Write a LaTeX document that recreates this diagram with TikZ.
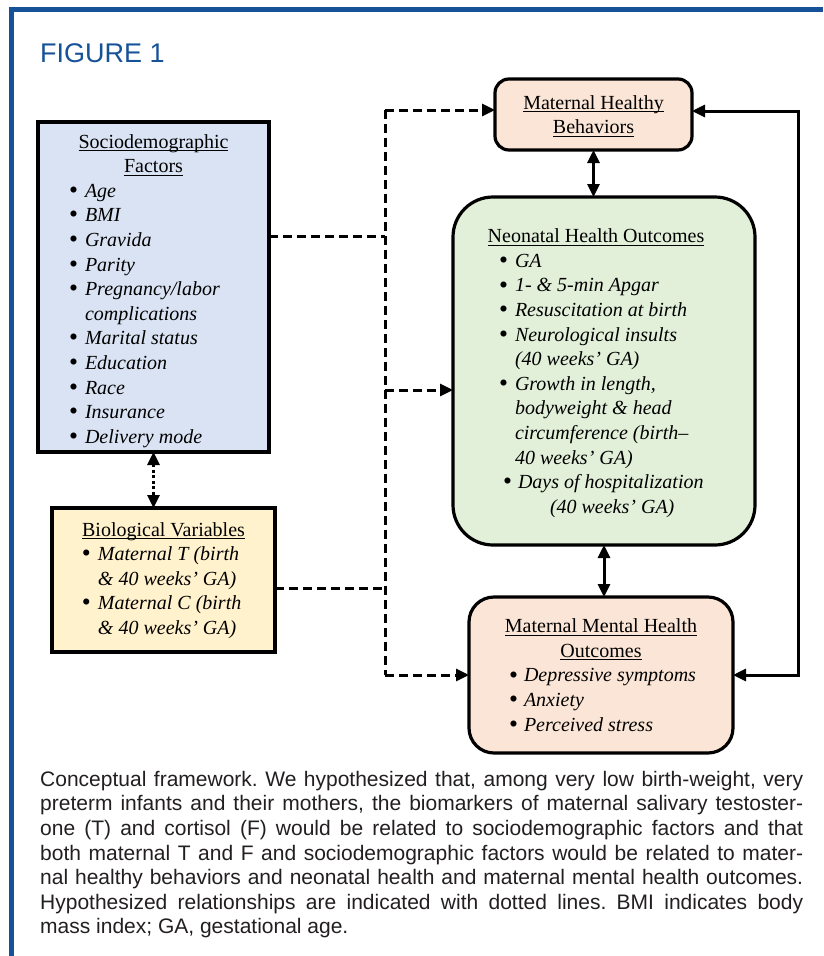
\documentclass[tikz,border=0pt]{standalone}
\usepackage{fontspec}
\setmainfont{Liberation Serif}
\newfontfamily\capfont{Liberation Sans}
\usetikzlibrary{arrows.meta}
\definecolor{frameblue}{RGB}{22,82,152}
\definecolor{sociofill}{RGB}{218,227,243}
\definecolor{biofill}{RGB}{255,242,204}
\definecolor{peachfill}{RGB}{251,229,214}
\definecolor{greenfill}{RGB}{226,240,217}
\definecolor{captext}{RGB}{35,31,32}

\newcommand\myul[1]{\leavevmode\setbox0=\hbox{#1}\rlap{\rule[-3pt]{\wd0}{0.9pt}}\box0}
\newcommand\mline[2]{\par\noindent\hspace*{#1}\strut#2}
\newcommand\bigbul{\raisebox{-1.1pt}{\scalebox{1.28}{\textbullet}}}
\newcommand\mbul[3]{\mline{#1}{\makebox[#2][l]{\bigbul}\textit{#3}}}
\newcommand\mtitle[2]{\par\noindent\makebox[\linewidth]{\hspace*{#1}\strut\myul{#2}}}
\newcommand\boxtext[4]{\begin{minipage}[c][#2][t]{#1}\fontsize{20}{24.6}\selectfont\vspace*{#3}#4\par\end{minipage}}

\begin{document}
\begin{tikzpicture}[x=1pt,y=-1pt,
  box/.style={draw=black, line width=3.2pt, inner sep=0pt, outer sep=0pt},
  conn/.style={line width=3pt, line cap=butt},
  tipA/.style={-{Triangle[length=13pt,width=12pt]}},
  tipB/.style={{Triangle[length=13pt,width=12pt]}-{Triangle[length=13pt,width=12pt]}},
  dsh/.style={conn, dash pattern=on 9pt off 5pt},
  dotl/.style={conn, dash pattern=on 3pt off 2.5pt}]
\useasboundingbox (0,0) rectangle (823,956);
\fill[white] (0,0) rectangle (823,956);

% frame
\draw[frameblue, line width=5pt, line join=miter] (11,956) -- (11,9.5) -- (823,9.5);
\node[anchor=base west, inner sep=0pt, text=frameblue, font=\capfont\fontsize{27}{30}\selectfont] (title) at (40,62) {FIGURE 1};

% boxes
\node[box, fill=sociofill] (socio) at (153.5,287) {\boxtext{231pt}{330pt}{8.8pt}{%
  \mtitle{0pt}{Sociodemographic}%
  \mtitle{0pt}{Factors}%
  \mbul{31pt}{16pt}{Age}%
  \mbul{31pt}{16pt}{BMI}%
  \mbul{31pt}{16pt}{Gravida}%
  \mbul{31pt}{16pt}{Parity}%
  \mbul{31pt}{16pt}{Pregnancy/labor}%
  \mline{47pt}{\textit{complications}}%
  \mbul{31pt}{16pt}{Marital status}%
  \mbul{31pt}{16pt}{Education}%
  \mbul{31pt}{16pt}{Race}%
  \mbul{31pt}{16pt}{Insurance}%
  \mbul{31pt}{16pt}{Delivery mode}}};

\node[box, fill=biofill] (bio) at (163.5,580) {\boxtext{223pt}{144pt}{10.8pt}{%
  \mtitle{0pt}{Biological Variables}%
  \mbul{30pt}{16pt}{Maternal T (birth}%
  \mline{46pt}{\textit{\& 40 weeks' GA)}}%
  \mbul{30pt}{16pt}{Maternal C (birth}%
  \mline{46pt}{\textit{\& 40 weeks' GA)}}}};

\node[box, fill=peachfill, rounded corners=14pt] (healthy) at (593.5,114.5) {\boxtext{197pt}{71pt}{12.8pt}{%
  \mtitle{0pt}{Maternal Healthy}%
  \mtitle{0pt}{Behaviors}}};

\node[box, fill=greenfill, rounded corners=40pt] (neo) at (604,371) {\boxtext{302pt}{348pt}{28.5pt}{%
  \mtitle{-16pt}{Neonatal Health Outcomes}%
  \mbul{46pt}{16pt}{GA}%
  \mbul{46pt}{16pt}{1- \& 5-min Apgar}%
  \mbul{46pt}{16pt}{Resuscitation at birth}%
  \mbul{46pt}{16pt}{Neurological insults}%
  \mline{62pt}{\textit{(40 weeks' GA)}}%
  \mbul{46pt}{16pt}{Growth in length,}%
  \mline{62pt}{\textit{bodyweight \& head}}%
  \mline{62pt}{\textit{circumference (birth–}}%
  \mline{62pt}{\textit{40 weeks' GA)}}%
  \mbul{50pt}{15pt}{Days of hospitalization}%
  \mline{97pt}{\textit{(40 weeks' GA)}}}};

\node[box, fill=peachfill, rounded corners=25pt] (mental) at (601,675) {\boxtext{264pt}{156pt}{18.5pt}{%
  \mtitle{0pt}{Maternal Mental Health}%
  \mtitle{0pt}{Outcomes}%
  \mbul{40pt}{15pt}{Depressive symptoms}%
  \mbul{40pt}{15pt}{Anxiety}%
  \mbul{40pt}{15pt}{Perceived stress}}};

% junction coordinates
\coordinate (jtop) at (385,110);
\coordinate (jsoc) at (385,236);
\coordinate (jneo) at (385,390);
\coordinate (jbio) at (385,588);
\coordinate (jbot) at (385,675);
\coordinate (rtop) at (798,111);
\coordinate (rbot) at (798,675);

% dashed connectors
\draw[dsh] (jtop) -- (jbot);
\draw[dsh, tipA] (jtop) -- (jtop -| healthy.west);
\draw[dsh] (socio.east |- jsoc) -- (jsoc);
\draw[dsh, tipA] (jneo) -- (jneo -| neo.west);
\draw[dsh] (bio.east |- jbio) -- (jbio);
\draw[dsh, tipA] (jbot) -- (jbot -| mental.west);

% dotted
\draw[dotl, tipB] (socio.south) -- (socio.south |- bio.north);

% solid
\draw[conn, tipB] (healthy.south) -- (healthy.south |- neo.north);
\draw[conn, tipB] (neo.south) -- (neo.south |- mental.north);
\draw[conn, tipB, line join=miter] (rtop -| healthy.east) -- (rtop) -- (rbot) -- (rbot -| mental.east);

% caption
\node[anchor=north west, inner sep=0pt, text width=763pt, align=justify, text=captext,
      font=\capfont\fontsize{21}{24.6}\selectfont\frenchspacing] (cap) at (40,768.8)
{\strut Conceptual framework. We hypothesized that, among very low birth-weight, very\linebreak
preterm infants and their mothers, the biomarkers of maternal salivary testoster-\linebreak
one (T) and cortisol (F) would be related to sociodemographic factors and that\linebreak
both maternal T and F and sociodemographic factors would be related to mater-\linebreak
nal healthy behaviors and neonatal health and maternal mental health outcomes.\linebreak
Hypothesized relationships are indicated with dotted lines. BMI indicates body\linebreak
mass index; GA, gestational age.};
\end{tikzpicture}
\end{document}
